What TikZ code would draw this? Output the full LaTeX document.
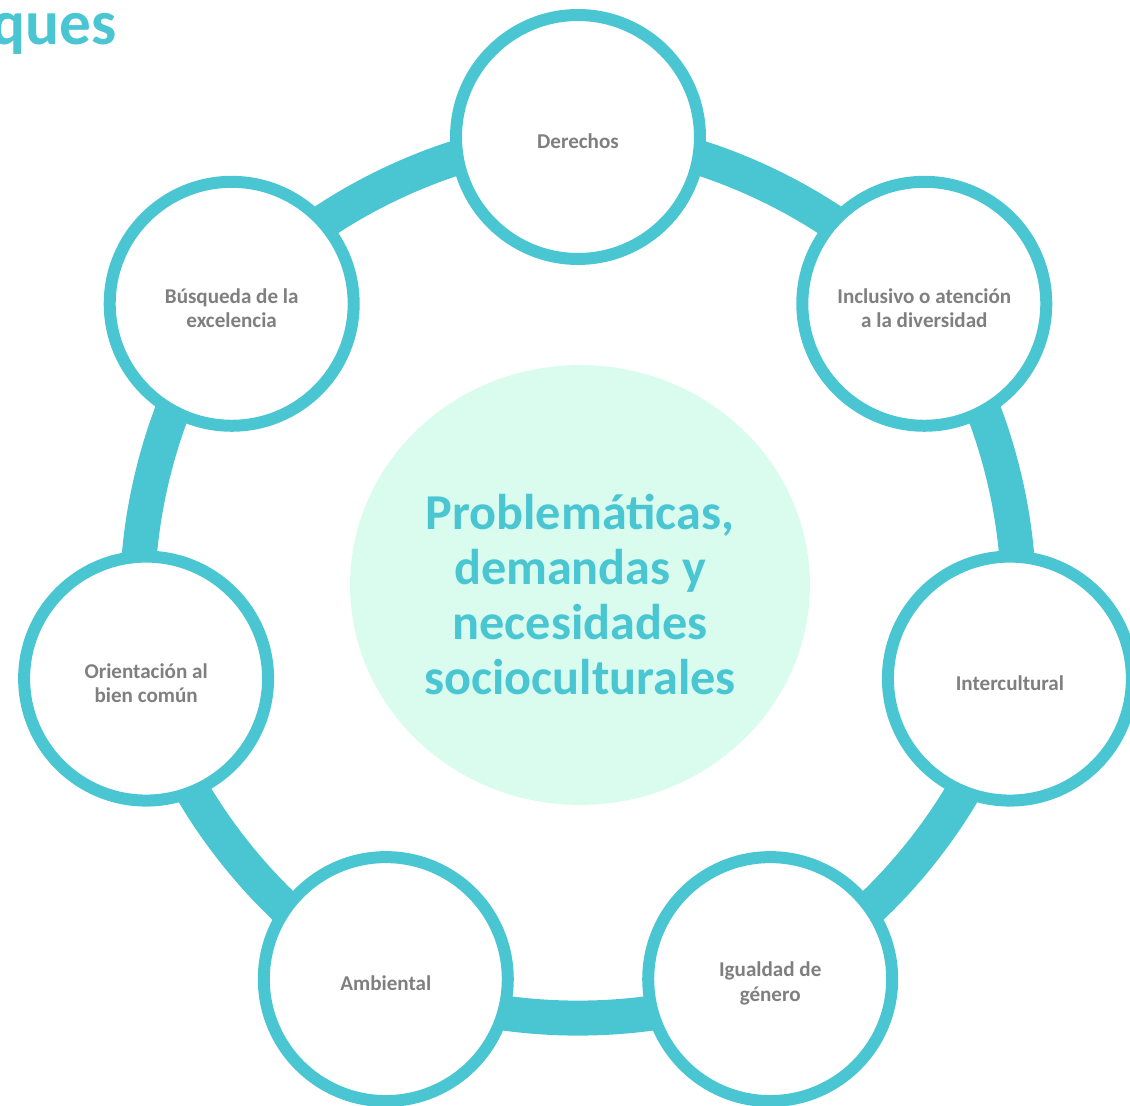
\documentclass[tikz,border=0pt]{standalone}
\usepackage{fontspec}
\setmainfont{Carlito}
\usepackage{tikz}
\usetikzlibrary{shapes.geometric , backgrounds}

\definecolor{turquesa}{HTML}{4AC6D3}
\definecolor{menta}{HTML}{DAFCEF}
\definecolor{grisclaro}{HTML}{7F7F7F}

% bajar un poco el texto dentro del circulo
\newcommand{\bajar}[1]{\rule{0pt}{#1}}

\begin{document}
\begin{tikzpicture}[x = 0.02cm , y = 0.02cm ,
    enfoque/.style = {circle , draw = turquesa , line width = 0.24cm , fill = white ,
        minimum size = 4.88cm , inner sep = 0pt , align = center ,
        text = grisclaro , font = \fontsize{12}{14}\selectfont\bfseries},
    centro/.style = {ellipse , fill = menta , minimum width = 9.2cm , minimum height = 8.8cm ,
        inner sep = 0pt , align = center , text = turquesa ,
        font = \fontsize{28.6}{31.3}\selectfont\bfseries},
    anillo/.style = {draw = turquesa , line width = 0.7cm , bend left = 25.7 , looseness = 0.8}]
    \useasboundingbox (0,0) rectangle (1130,1106);
    \clip (0,0) rectangle (1130,1106);
    \node[anchor = base east , text = turquesa , font = \fontsize{36}{40}\selectfont\bfseries] (titulo) at (123,1061) {ques}; % Titulo cortado
    \node[centro] (prob) at (580,521) {\bajar{31pt}Problemáticas,\\demandas y\\necesidades\\socioculturales};
    \node[enfoque] (der) at (578,969) {\bajar{13.5pt}Derechos};
    \node[enfoque] (inc) at (924.3,802.2) {\bajar{13.5pt}Inclusivo o atención\\a la diversidad};
    \node[enfoque] (int) at (1009.9,427.4) {\bajar{13.5pt}Intercultural};
    \node[enfoque] (igu) at (770.2,126.9) {\bajar{13.5pt}Igualdad de\\género};
    \node[enfoque] (amb) at (385.8,126.9) {\bajar{13.5pt}Ambiental};
    \node[enfoque] (ori) at (146.1,427.4) {\bajar{13.5pt}Orientación al\\bien común};
    \node[enfoque] (bus) at (231.7,802.2) {\bajar{13.5pt}Búsqueda de la\\excelencia};
    % Anillo
    \begin{pgfonlayer}{background}
        \draw[anillo] (der.center) to (inc.center);
        \draw[anillo] (inc.center) to (int.center);
        \draw[anillo] (int.center) to (igu.center);
        \draw[anillo] (igu.center) to (amb.center);
        \draw[anillo] (amb.center) to (ori.center);
        \draw[anillo] (ori.center) to (bus.center);
        \draw[anillo] (bus.center) to (der.center);
    \end{pgfonlayer}
\end{tikzpicture}
\end{document}
